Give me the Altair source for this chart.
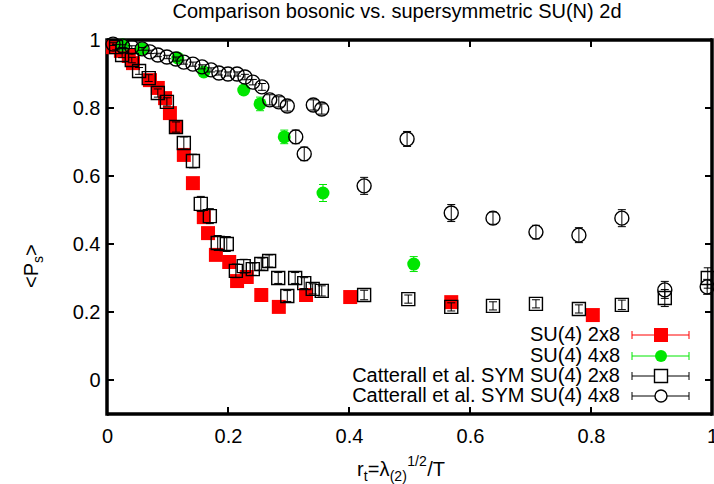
import altair as alt
import pandas as pd

# ---------------- data ----------------
red_x = [0.010, 0.023, 0.036, 0.043, 0.071, 0.084, 0.096, 0.104, 0.114, 0.127, 0.142, 0.160,
         0.167, 0.180, 0.202, 0.215, 0.231, 0.255, 0.284, 0.329, 0.402, 0.569, 0.803]
red_y = [0.979, 0.968, 0.953, 0.932, 0.882, 0.859, 0.829, 0.785, 0.744, 0.662, 0.579, 0.479,
         0.432, 0.368, 0.347, 0.291, 0.303, 0.250, 0.215, 0.250, 0.244, 0.229, 0.191]
red_err = [0.006, 0.006, 0.006, 0.006, 0.008, 0.008, 0.008, 0.010, 0.010, 0.010, 0.010, 0.012,
           0.012, 0.012, 0.012, 0.012, 0.012, 0.010, 0.010, 0.010, 0.010, 0.010, 0.010]

green_x = [0.026, 0.058, 0.117, 0.160, 0.226, 0.253, 0.293, 0.357, 0.507]
green_y = [0.985, 0.974, 0.947, 0.906, 0.853, 0.812, 0.715, 0.550, 0.341]
green_err = [0.006, 0.006, 0.008, 0.008, 0.012, 0.020, 0.020, 0.025, 0.022]

sq_x = [0.015, 0.025, 0.041, 0.053, 0.069, 0.084, 0.099, 0.114, 0.127, 0.142, 0.155, 0.170,
        0.183, 0.198, 0.213, 0.226, 0.241, 0.255, 0.268, 0.283, 0.298, 0.311, 0.326, 0.340,
        0.355, 0.425, 0.498, 0.569, 0.638, 0.709, 0.780, 0.851, 0.922, 0.993]
sq_y = [0.979, 0.956, 0.941, 0.909, 0.888, 0.844, 0.818, 0.744, 0.697, 0.644, 0.518, 0.482,
        0.403, 0.400, 0.321, 0.335, 0.326, 0.341, 0.350, 0.300, 0.247, 0.300, 0.285, 0.268,
        0.262, 0.250, 0.238, 0.215, 0.218, 0.224, 0.209, 0.221, 0.241, 0.300]
sq_err = [0.008, 0.008, 0.008, 0.010, 0.010, 0.012, 0.012, 0.015, 0.018, 0.020, 0.022, 0.022,
          0.022, 0.022, 0.020, 0.020, 0.018, 0.018, 0.018, 0.016, 0.016, 0.016, 0.016, 0.015,
          0.015, 0.014, 0.012, 0.012, 0.012, 0.012, 0.012, 0.014, 0.025, 0.030]

circ_x = [0.010, 0.026, 0.041, 0.058, 0.071, 0.084, 0.099, 0.114, 0.127, 0.142, 0.157, 0.172,
          0.185, 0.200, 0.215, 0.228, 0.241, 0.256, 0.269, 0.284, 0.298, 0.312, 0.326, 0.341,
          0.355, 0.425, 0.496, 0.569, 0.638, 0.709, 0.780, 0.851, 0.922, 0.992]
circ_y = [0.988, 0.982, 0.979, 0.974, 0.965, 0.956, 0.950, 0.944, 0.935, 0.929, 0.921, 0.912,
          0.903, 0.900, 0.900, 0.891, 0.876, 0.862, 0.824, 0.818, 0.806, 0.715, 0.665, 0.809,
          0.797, 0.571, 0.709, 0.491, 0.476, 0.435, 0.426, 0.476, 0.265, 0.274]
circ_err = [0.004, 0.004, 0.004, 0.004, 0.005, 0.005, 0.005, 0.006, 0.006, 0.006, 0.006, 0.006,
            0.006, 0.006, 0.006, 0.008, 0.008, 0.010, 0.015, 0.015, 0.015, 0.020, 0.020, 0.015,
            0.015, 0.025, 0.022, 0.025, 0.018, 0.020, 0.022, 0.025, 0.025, 0.022]

x_ticks = [0.0, 0.2, 0.4, 0.6, 0.8, 1.0]
y_ticks = [0.0, 0.2, 0.4, 0.6, 0.8, 1.0]

legend_labels = ["SU(4) 2x8", "SU(4) 4x8",
                 "Catterall et al. SYM SU(4) 2x8", "Catterall et al. SYM SU(4) 4x8"]

FONT = "Liberation Sans"
W, H = 605, 374
RED = "#ff0000"
GREEN = "#00e600"
BLACK = "#000000"

xs = alt.Scale(domain=[0, 1.0], nice=False, zero=False)
ys = alt.Scale(domain=[-0.1, 1.0], nice=False, zero=False)


def frame(xv, yv, ev):
    return pd.DataFrame({"x": xv, "y": yv,
                         "lo": [a - b for a, b in zip(yv, ev)],
                         "hi": [a + b for a, b in zip(yv, ev)]})


def series(df, color, shape, size, filled, sw):
    base = alt.Chart(df)
    bar = base.mark_rule(color=color, strokeWidth=1).encode(
        x=alt.X("x:Q", scale=xs), y=alt.Y("lo:Q", scale=ys), y2="hi:Q")
    cap_lo = base.mark_point(shape="M-1,0H1", size=64, filled=False, color=color,
                             strokeWidth=1, opacity=1).encode(
        x=alt.X("x:Q", scale=xs), y=alt.Y("lo:Q", scale=ys))
    cap_hi = base.mark_point(shape="M-1,0H1", size=64, filled=False, color=color,
                             strokeWidth=1, opacity=1).encode(
        x=alt.X("x:Q", scale=xs), y=alt.Y("hi:Q", scale=ys))
    if filled:
        mk = base.mark_point(shape=shape, size=size, filled=True, color=color,
                             opacity=1, strokeWidth=0)
    else:
        mk = base.mark_point(shape=shape, size=size, filled=False, color=color,
                             opacity=1, strokeWidth=sw)
    mk = mk.encode(x=alt.X("x:Q", scale=xs), y=alt.Y("y:Q", scale=ys))
    return [bar, cap_lo, cap_hi, mk]


layers = []

# axes (labels only) drawn from an invisible layer
axis_df = pd.DataFrame({"x": [0.0, 1.0], "y": [-0.1, 1.0]})
axes = alt.Chart(axis_df).mark_point(opacity=0).encode(
    x=alt.X("x:Q", scale=xs, title=None,
            axis=alt.Axis(values=x_ticks, grid=False, domain=False, ticks=False,
                          labelExpr="toString(round(datum.value*10)/10)",
                          labelFontSize=20, labelPadding=12, labelFont=FONT,
                          labelColor=BLACK, labelFlush=False, labelOverlap=False)),
    y=alt.Y("y:Q", scale=ys, title=None,
            axis=alt.Axis(values=y_ticks, grid=False, domain=False, ticks=False,
                          labelExpr="toString(round(datum.value*10)/10)",
                          labelFontSize=20, labelPadding=7, labelFont=FONT,
                          labelColor=BLACK, labelFlush=False, labelOverlap=False)),
)
layers.append(axes)

# frame (border) as four rules
one = pd.DataFrame({"k": [0]})
BW = 3.5
layers.append(alt.Chart(one).mark_rule(color=BLACK, strokeWidth=BW).encode(
    x=alt.value(0), x2=alt.value(W), y=alt.value(0)))
layers.append(alt.Chart(one).mark_rule(color=BLACK, strokeWidth=BW).encode(
    x=alt.value(0), x2=alt.value(W), y=alt.value(H)))
layers.append(alt.Chart(one).mark_rule(color=BLACK, strokeWidth=BW).encode(
    x=alt.value(0), y=alt.value(-BW / 2), y2=alt.value(H + BW / 2)))
layers.append(alt.Chart(one).mark_rule(color=BLACK, strokeWidth=BW).encode(
    x=alt.value(W), y=alt.value(-BW / 2), y2=alt.value(H + BW / 2)))

# inward tick marks on all four sides
xt_df = pd.DataFrame({"x": x_ticks[1:-1]})
yt_df = pd.DataFrame({"y": y_ticks[:-1]})
TL = 7
layers.append(alt.Chart(xt_df).mark_rule(color=BLACK, strokeWidth=2).encode(
    x=alt.X("x:Q", scale=xs), y=alt.value(H), y2=alt.value(H - TL)))
layers.append(alt.Chart(xt_df).mark_rule(color=BLACK, strokeWidth=2).encode(
    x=alt.X("x:Q", scale=xs), y=alt.value(0), y2=alt.value(TL)))
layers.append(alt.Chart(yt_df).mark_rule(color=BLACK, strokeWidth=2).encode(
    y=alt.Y("y:Q", scale=ys), x=alt.value(0), x2=alt.value(TL)))
layers.append(alt.Chart(yt_df).mark_rule(color=BLACK, strokeWidth=2).encode(
    y=alt.Y("y:Q", scale=ys), x=alt.value(W), x2=alt.value(W - TL)))

layers += series(frame(red_x, red_y, red_err), RED, "square", 196, True, 0)
layers += series(frame(green_x, green_y, green_err), GREEN, "circle", 169, True, 0)
layers += series(frame(sq_x, sq_y, sq_err), BLACK, "square", 169, False, 1.4)
layers += series(frame(circ_x, circ_y, circ_err), BLACK, "circle", 196, False, 1.4)

# ---------------- legend (bottom right, inside the frame) ----------------
leg_colors = [RED, GREEN, BLACK, BLACK]
leg_shapes = ["square", "circle", "square", "circle"]
leg_sizes = [196, 144, 169, 144]
leg_filled = [True, True, False, False]
leg_rows = [295, 316, 336, 356]
tx, lx1, lx2, mx = 513, 525, 582, 554
for lab, c, s, sz, f, ry in zip(legend_labels, leg_colors, leg_shapes, leg_sizes,
                                leg_filled, leg_rows):
    layers.append(alt.Chart(one).mark_text(align="right", baseline="middle", fontSize=20,
                                            font=FONT, color=BLACK).encode(
        x=alt.value(tx), y=alt.value(ry), text=alt.value(lab)))
    layers.append(alt.Chart(one).mark_rule(color=c, strokeWidth=1).encode(
        x=alt.value(lx1), x2=alt.value(lx2), y=alt.value(ry)))
    for cx in (lx1, lx2):
        layers.append(alt.Chart(one).mark_rule(color=c, strokeWidth=1).encode(
            x=alt.value(cx), y=alt.value(ry - 4), y2=alt.value(ry + 4)))
    if f:
        m = alt.Chart(one).mark_point(shape=s, size=sz, filled=True, color=c, opacity=1,
                                      strokeWidth=0)
    else:
        m = alt.Chart(one).mark_point(shape=s, size=sz, filled=False, color=c, opacity=1,
                                      strokeWidth=1.4, fill="white", fillOpacity=1)
    layers.append(m.encode(x=alt.value(mx), y=alt.value(ry)))

# ---------------- titles as text pieces (super/subscripts) ----------------
layers.append(alt.Chart(one).mark_text(align="center", baseline="middle", fontSize=20,
                                       font=FONT, color=BLACK).encode(
    x=alt.value(397 - 107), y=alt.value(12 - 40),
    text=alt.value("Comparison bosonic vs. supersymmetric SU(N) 2d")))

# x title: r_t=λ_(2)^{1/2}/T
xt_pieces = [("r", 20, 0, 6.7), ("t", 14, 5, 4.0), ("=λ", 20, 0, 22.0),
             ("(2)", 14, 5, 17.5), ("1/2", 14, -10, 20.0), ("/T", 20, 0, 18.0)]
px = 357 - 107
base_y = 476 - 40
for txt, fs, dy, wdt in xt_pieces:
    layers.append(alt.Chart(one).mark_text(align="left", baseline="alphabetic", fontSize=fs,
                                           font=FONT, color=BLACK).encode(
        x=alt.value(px), y=alt.value(base_y + dy), text=alt.value(txt)))
    px += wdt

# y title: <P_s> rotated
yt_pieces = [("<P", 20, 0, 25.0), ("s", 14, 5, 7.0), (">", 20, 0, 12.0)]
py = 288 - 40
bx = 38 - 107
for txt, fs, dx, wdt in yt_pieces:
    layers.append(alt.Chart(one).mark_text(align="left", baseline="alphabetic", fontSize=fs,
                                           font=FONT, color=BLACK, angle=270).encode(
        x=alt.value(bx + dx), y=alt.value(py), text=alt.value(txt)))
    py -= wdt

chart = alt.layer(*layers).properties(
    width=W, height=H,
    autosize=alt.AutoSizeParams(type="none"),
    padding={"left": 107, "top": 40, "right": 2, "bottom": 70},
    background="white",
).configure_view(stroke=None)

chart.save("out.html", embed_options={"renderer": "svg", "actions": False})
